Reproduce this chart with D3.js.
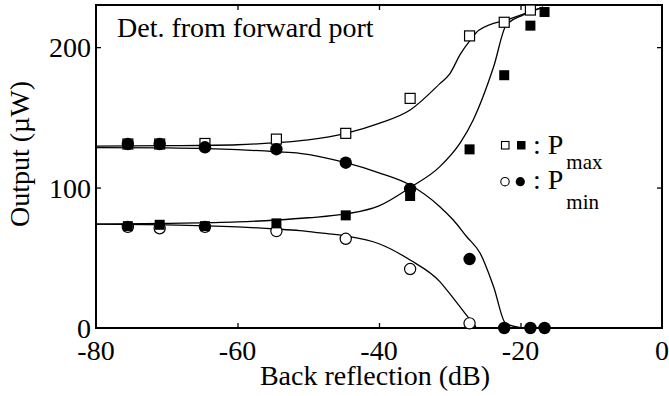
<!DOCTYPE html>
<html>
<head>
<meta charset="utf-8">
<script src="https://cdn.jsdelivr.net/npm/d3@7"></script>
<style>
  html, body { margin: 0; padding: 0; background: #fff; }
  svg { display: block; }
</style>
</head>
<body>
<svg id="chart" width="669" height="396"></svg>
<script>
// Back reflection levels (dB) where the detector output was measured
const reflection = [-75.5, -71, -64.6, -54.5, -44.7, -35.6, -27.2, -22.3, -18.6, -16.6];

// Measured output (µW), two data sets: open and filled symbols
const openMax   = [131, 131, 131.4, 134.5, 138.6, 163.5, 208, 217.7, 226.4, null];
const openMin   = [72, 71, 72, 69, 63.5, 42, 3.3, null, null, null];
const filledMax = [72.5, 73.5, 72.5, 74.5, 80.2, 94, 127.2, 180, 215.3, 225];
const filledMin = [131, 131, 128.7, 127.3, 117.7, 99, 49.1, 0, 0, 0];

// Fitted curves [dB, µW]
const fitOpenMax = [[-80,129.5],[-70,129.8],[-60,130.5],[-54.5,132],[-50,134],[-44.7,138.6],[-40,145.7],
  [-35.6,155.2],[-31.4,174],[-30,181],[-28.5,195],[-27.1,205],[-25.9,212],[-21.4,220.3],[-16.8,228.5]];
const fitFilledMax = [[-80,74],[-70,74.5],[-60,75.5],[-54.5,76.9],[-50,78.5],[-44.7,81.2],[-40,87],
  [-35.6,100],[-31.4,114.9],[-28.5,132],[-26.7,148],[-23.8,186],[-22,215.8],[-19.6,222.9],[-16.8,228.5]];
const fitOpenMin = [[-80,74],[-70,73.5],[-60,72],[-54.5,70.5],[-51.2,69.3],[-48,67.5],[-44.7,65.5],
  [-40,60],[-35.6,48.4],[-31.4,33],[-30.4,27],[-27.1,5.7],[-26.3,0.8]];
const fitFilledMin = [[-80,128.5],[-70,128.2],[-60,127],[-54.5,125.5],[-51.2,124.4],[-44.7,117.7],
  [-40,110.5],[-35.6,101.8],[-31.4,86.4],[-29.5,76.9],[-27.6,65],[-25.7,53.2],[-23.8,29.4],[-22.1,3.3],[-20,0.3]];

// Axis ticks
const xTicks = [-80, -60, -40, -20, 0];
const yTicks = [0, 100, 200];

const FONT = "Liberation Serif";

const svg = d3.select("#chart");
const plotL = 96, plotR = 662, plotT = 5, plotB = 328;

const x = d3.scaleLinear().domain([-80, 0]).range([plotL, plotR]);
const y = d3.scaleLinear().domain([0, 230]).range([plotB, plotT]);

// Inward ticks on all four sides
const tickLen = 5;
svg.append("g").attr("transform", `translate(0,${plotB})`)
  .call(d3.axisTop(x).tickValues(xTicks.slice(1, -1)).tickSize(tickLen).tickFormat(""))
  .call(g => g.select(".domain").remove());
svg.append("g").attr("transform", `translate(0,${plotT})`)
  .call(d3.axisBottom(x).tickValues(xTicks.slice(1, -1)).tickSize(tickLen).tickFormat(""))
  .call(g => g.select(".domain").remove());
svg.append("g").attr("transform", `translate(${plotL},0)`)
  .call(d3.axisRight(y).tickValues(yTicks.slice(1)).tickSize(tickLen).tickFormat(""))
  .call(g => g.select(".domain").remove());
svg.append("g").attr("transform", `translate(${plotR},0)`)
  .call(d3.axisLeft(y).tickValues(yTicks.slice(1)).tickSize(tickLen).tickFormat(""))
  .call(g => g.select(".domain").remove());
svg.selectAll(".tick line").attr("stroke", "#000").attr("stroke-width", 1.3);
svg.selectAll(".tick text").remove();

// Frame
svg.append("rect")
  .attr("x", plotL).attr("y", plotT)
  .attr("width", plotR - plotL).attr("height", plotB - plotT)
  .attr("fill", "none").attr("stroke", "#000").attr("stroke-width", 2);

// Text helper: serif face set on every text node
const addText = (parent, size) => parent.append("text")
  .attr("font-family", FONT).style("font-family", FONT)
  .attr("font-size", size).attr("fill", "#000");

const txt = svg.append("g");

// Tick labels
xTicks.forEach(d => {
  addText(txt, 28).attr("x", x(d)).attr("y", 360).attr("text-anchor", "middle").text(d);
});
yTicks.forEach(d => {
  addText(txt, 28).attr("x", 91).attr("y", y(d) + 10).attr("text-anchor", "end").text(d);
});

// Axis titles
addText(txt, 28).attr("x", 375).attr("y", 385).attr("text-anchor", "middle")
  .text("Back reflection (dB)");
addText(txt, 28).attr("transform", "translate(29,154) rotate(-90)").attr("text-anchor", "middle")
  .text("Output (µW)");

// Annotation
addText(txt, 28).attr("x", 117).attr("y", 37).text("Det. from forward port");

// Fitted curves
const line = d3.line().x(d => x(d[0])).y(d => y(d[1])).curve(d3.curveMonotoneX);
[fitOpenMax, fitFilledMax, fitOpenMin, fitFilledMin].forEach(c => {
  svg.append("path").attr("d", line(c))
    .attr("fill", "none").attr("stroke", "#000").attr("stroke-width", 1.3);
});

// Markers
const pts = (vals) => reflection.map((d, i) => ({ d, v: vals[i] })).filter(p => p.v != null);
const sq = 10, cr = 5.6;

svg.append("g").selectAll("rect").data(pts(openMax)).join("rect")
  .attr("x", p => x(p.d) - sq / 2).attr("y", p => y(p.v) - sq / 2)
  .attr("width", sq).attr("height", sq)
  .attr("fill", "#fff").attr("stroke", "#000").attr("stroke-width", 1.2);
svg.append("g").selectAll("circle").data(pts(openMin)).join("circle")
  .attr("cx", p => x(p.d)).attr("cy", p => y(p.v)).attr("r", cr)
  .attr("fill", "#fff").attr("stroke", "#000").attr("stroke-width", 1.2);
svg.append("g").selectAll("rect").data(pts(filledMax)).join("rect")
  .attr("x", p => x(p.d) - sq / 2).attr("y", p => y(p.v) - sq / 2)
  .attr("width", sq).attr("height", sq).attr("fill", "#000");
svg.append("g").selectAll("circle").data(pts(filledMin)).join("circle")
  .attr("cx", p => x(p.d)).attr("cy", p => y(p.v)).attr("r", 6.2)
  .attr("fill", "#000");

// Legend
const lg = svg.append("g");
lg.append("rect").attr("x", 501.5).attr("y", 141.5).attr("width", 7.5).attr("height", 7.5)
  .attr("fill", "#fff").attr("stroke", "#000").attr("stroke-width", 1.1);
lg.append("rect").attr("x", 517).attr("y", 141).attr("width", 8.5).attr("height", 8.5).attr("fill", "#000");
lg.append("circle").attr("cx", 505).attr("cy", 181.7).attr("r", 4.2)
  .attr("fill", "#fff").attr("stroke", "#000").attr("stroke-width", 1.1);
lg.append("circle").attr("cx", 520.3).attr("cy", 181.7).attr("r", 4.6).attr("fill", "#000");

const lt1 = addText(txt, 28).attr("x", 533).attr("y", 153.5);
lt1.append("tspan").text(": P");
lt1.append("tspan").attr("dx", 3).attr("dy", 15).attr("font-size", 21).text("max");
const lt2 = addText(txt, 28).attr("x", 533).attr("y", 188.5);
lt2.append("tspan").text(": P");
lt2.append("tspan").attr("dx", 3).attr("dy", 20.5).attr("font-size", 21).text("min");
</script>
</body>
</html>
